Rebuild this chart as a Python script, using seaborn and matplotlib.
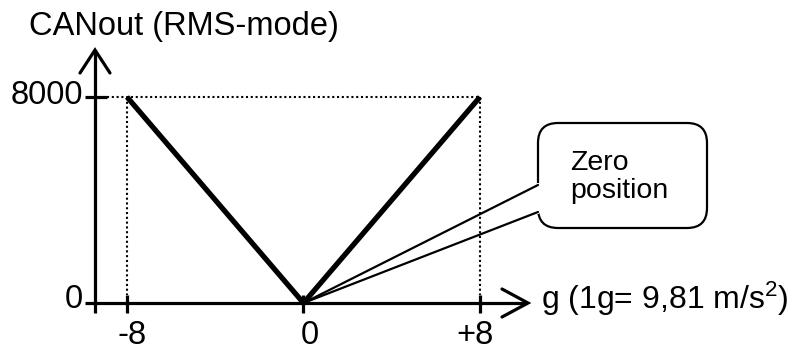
import numpy as np
import pandas as pd
import matplotlib
matplotlib.use('Agg')
import matplotlib.pyplot as plt
import seaborn as sns
from matplotlib.patches import FancyBboxPatch

# ---------------- data ----------------
g_values = [-8, 0, 8]
canout_values = [8000, 0, 8000]
x_tick_values = [-8, 0, 8]
x_tick_labels = ['-8', '0', '+8']
y_tick_values = [0, 8000]
y_tick_labels = ['0', '8000']
y_axis_title = 'CANout (RMS-mode)'
x_axis_title = r'g (1g= 9,81 m/s$^{\mathregular{2}}$)'
callout_text = 'Zero\nposition'

# ---------------- style ----------------
sns.set_theme(style='white')
plt.rcParams['font.family'] = ['Liberation Sans', 'DejaVu Sans']
plt.rcParams['mathtext.fontset'] = 'custom'
plt.rcParams['mathtext.rm'] = 'Liberation Sans'
plt.rcParams['mathtext.it'] = 'Liberation Sans:italic'

W, H, DPI = 803, 349, 100
fig = plt.figure(figsize=(W / DPI, H / DPI), dpi=DPI)
fig.patch.set_facecolor('white')
ax = fig.add_axes([0, 0, 1, 1])

# layout: data origin position (pixels from left/top) and pixel scale
X0, SX = 303.5, 22.06          # px per g unit
Y0, SY = 303.0, 206 / 8000     # px per CANout unit


def px(xp):
    return (xp - X0) / SX


def py(yp):
    return (Y0 - yp) / SY


FS = 23.5
AX_LW = 2.3
INK = '#000000'
DOT = (0, (1, 1.3))

# ---------------- main V line ----------------
df = pd.DataFrame({'g': g_values, 'canout': canout_values})
sns.lineplot(data=df, x='g', y='canout', sort=False, estimator=None,
             color=INK, lw=3.8, ax=ax, zorder=5,
             solid_capstyle='butt', solid_joinstyle='miter')

# ---------------- dotted guides ----------------
ax.plot([px(107), g_values[-1]], [canout_values[-1]] * 2, color=INK,
        lw=1.5, ls=DOT, zorder=2)
for gx, cy in [(g_values[0], canout_values[0]), (g_values[-1], canout_values[-1])]:
    ax.plot([gx, gx], [cy, py(295)], color=INK, lw=1.5, ls=DOT, zorder=2)

# ---------------- axes with open arrowheads ----------------
ax.plot([px(85), px(527)], [0, 0], color=INK, lw=AX_LW, solid_capstyle='butt', zorder=4)
ax.plot([px(502), px(528), px(502)], [py(289), 0, py(317)], color=INK, lw=AX_LW,
        solid_joinstyle='miter', zorder=4)
ax.plot([px(95), px(95)], [py(313), py(51)], color=INK, lw=AX_LW, solid_capstyle='butt', zorder=4)
ax.plot([px(80), px(95), px(110)], [py(73), py(50), py(73)], color=INK, lw=AX_LW,
        solid_joinstyle='miter', zorder=4)

# ticks
for t in x_tick_values:
    ax.plot([t, t], [py(295), py(313)], color=INK, lw=AX_LW, solid_capstyle='butt', zorder=4)
ax.plot([px(85), px(107)], [y_tick_values[1]] * 2, color=INK, lw=AX_LW,
        solid_capstyle='butt', zorder=4)

# tick labels
x_label_offsets_px = [5, 6, -5]
for t, lab, off in zip(x_tick_values, x_tick_labels, x_label_offsets_px):
    ax.text(t + off / SX, py(335), lab, ha='center', va='center', fontsize=FS, color=INK)
for v, lab in zip(y_tick_values, y_tick_labels):
    ax.text(px(83), v + (2 / SY if v else 3 / SY), lab, ha='right', va='center',
            fontsize=FS, color=INK)

# axis titles
ax.text(px(29), py(27), y_axis_title, ha='left', va='center', fontsize=FS, color=INK)
ax.text(px(541), py(299), x_axis_title, ha='left', va='center', fontsize=FS - 0.5, color=INK)

# ---------------- callout ----------------
bx0, bx1 = px(538), px(707)
by0, by1 = py(228), py(123)
box = FancyBboxPatch((bx0, by0), bx1 - bx0, by1 - by0,
                     boxstyle=f'round,pad=0,rounding_size={20 / SX}',
                     mutation_aspect=SX / SY, fc='white', ec=INK, lw=1.6, zorder=6)
ax.add_patch(box)
wy_top, wy_bot = py(185), py(212)
ax.plot([bx0, bx0], [wy_bot, wy_top], color='white', lw=3, zorder=7)
for wy in (wy_top, wy_bot):
    ax.plot([g_values[1], bx0], [canout_values[1], wy], color=INK, lw=1.6, zorder=8)
ax.text(px(570), py(177), callout_text, ha='left', va='center', fontsize=20.5,
        linespacing=1.1, color=INK, zorder=9)

ax.set_xlim(-X0 / SX, (W - X0) / SX)
ax.set_ylim(-(H - Y0) / SY, Y0 / SY)
ax.set_axis_off()

fig.savefig('out.png', dpi=DPI, facecolor='white')
